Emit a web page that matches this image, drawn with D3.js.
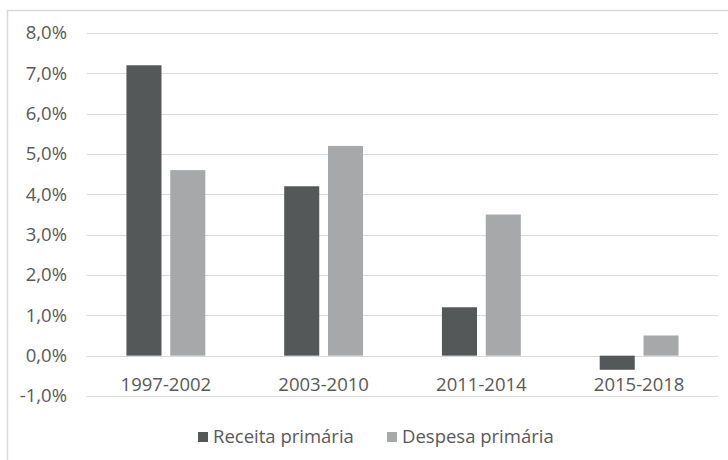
<!DOCTYPE html>
<html>
<head>
<meta charset="utf-8">
<script src="https://cdn.jsdelivr.net/npm/d3@7"></script>
<style>
  body { margin: 0; background: #fff; }
  text { font-family: "Open Sans", "Liberation Sans", sans-serif; fill: #595959; }
</style>
</head>
<body>
<div id="chart"></div>
<script>
// periods and series (percent)
var periods = ["1997-2002", "2003-2010", "2011-2014", "2015-2018"];
var seriesNames = ["Receita primária", "Despesa primária"];
var receita = [7.2, 4.2, 1.2, -0.35];
var despesa = [4.6, 5.2, 3.5, 0.5];
var yTicks = [-1, 0, 1, 2, 3, 4, 5, 6, 7, 8];
var colors = ["#545859", "#a6a8a9"];

var width = 728, height = 460;
var fontSize = "18.5px";

var svg = d3.select("#chart").append("svg")
  .attr("width", width)
  .attr("height", height);

// chart frame (cut off at the right and bottom)
svg.append("path")
  .attr("d", "M7.5," + height + "V10.5H" + width)
  .attr("fill", "none")
  .attr("stroke", "#d9d9d9")
  .attr("stroke-width", 1.5);

var y = d3.scaleLinear()
  .domain([-1, 8])
  .range([396, 33]);

var x0 = d3.scaleBand()
  .domain(periods)
  .range([87, 718])
  .paddingInner(0.5)
  .paddingOuter(0.25);

var x1 = d3.scaleBand()
  .domain(seriesNames)
  .range([0, x0.bandwidth()])
  .paddingInner(0.2);

var fmt = function(v){ return v.toFixed(1).replace(".", ",") + "%"; };

// gridlines
svg.append("g")
  .selectAll("line")
  .data(yTicks)
  .enter().append("line")
  .attr("x1", 87)
  .attr("x2", 718)
  .attr("y1", function(d){ return Math.round(y(d)) + 0.5; })
  .attr("y2", function(d){ return Math.round(y(d)) + 0.5; })
  .attr("stroke", "#d9d9d9")
  .attr("stroke-width", 1);

// y labels
svg.append("g")
  .selectAll("text")
  .data(yTicks)
  .enter().append("text")
  .attr("x", 67)
  .attr("y", function(d){ return y(d); })
  .attr("dy", "0.35em")
  .attr("text-anchor", "end")
  .style("font-size", fontSize)
  .text(fmt);

// bars
var data = periods.map(function(p, i){
  return {period: p, values: [receita[i], despesa[i]]};
});

var groups = svg.append("g")
  .selectAll("g")
  .data(data)
  .enter().append("g")
  .attr("transform", function(d){ return "translate(" + x0(d.period) + ",0)"; });

groups.selectAll("rect")
  .data(function(d){ return d.values.map(function(v, j){ return {name: seriesNames[j], value: v, j: j}; }); })
  .enter().append("rect")
  .attr("x", function(d){ return x1(d.name); })
  .attr("width", x1.bandwidth())
  .attr("y", function(d){ return y(Math.max(0, d.value)); })
  .attr("height", function(d){ return Math.abs(y(d.value) - y(0)); })
  .attr("fill", function(d){ return colors[d.j]; });

// category labels
svg.append("g")
  .selectAll("text")
  .data(periods)
  .enter().append("text")
  .attr("x", function(d){ return x0(d) + x0.bandwidth() / 2; })
  .attr("y", 391)
  .attr("text-anchor", "middle")
  .style("font-size", fontSize)
  .text(function(d){ return d; });

// legend
var legend = svg.append("g")
  .attr("transform", "translate(0,437)");
var legendX = [198, 387];
seriesNames.forEach(function(name, i){
  legend.append("rect")
    .attr("x", legendX[i])
    .attr("y", -5)
    .attr("width", 10)
    .attr("height", 10)
    .attr("fill", colors[i]);
  legend.append("text")
    .attr("x", legendX[i] + 15)
    .attr("y", 0)
    .attr("dy", "0.35em")
    .style("font-size", fontSize)
    .text(name);
});
</script>
</body>
</html>
